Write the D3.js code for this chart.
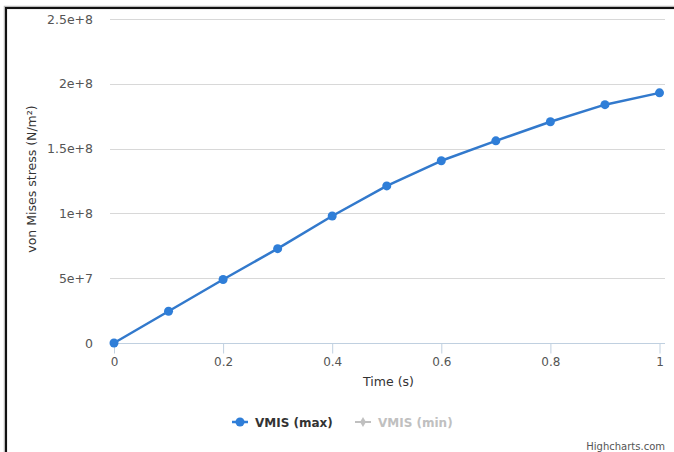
<!DOCTYPE html>
<html>
<head>
<meta charset="utf-8">
<script src="https://cdn.jsdelivr.net/npm/d3@7"></script>
<style>
  body { margin: 0; background: #fff; }
  text { font-family: "DejaVu Sans", Verdana, sans-serif; }
</style>
</head>
<body>
<script>
var width  = 674
var height = 452
var plot = { left: 110, right: 665, top: 19, bottom: 343 }

// data
var times   = [0, 0.1, 0.2, 0.3, 0.4, 0.5, 0.6, 0.7, 0.8, 0.9, 1]
var vmisMax = [0, 2.45e7, 4.9e7, 7.28e7, 9.8e7, 1.212e8, 1.406e8, 1.56e8, 1.707e8, 1.839e8, 1.93e8]
var yTicks  = [0, 5e7, 1e8, 1.5e8, 2e8, 2.5e8]
var yTickLabels = ['0', '5e+7', '1e+8', '1.5e+8', '2e+8', '2.5e+8']
var xTicks  = [0, 0.2, 0.4, 0.6, 0.8, 1]
var seriesNames = ['VMIS (max)', 'VMIS (min)']

var blue = '#2f7ed8'

var svg = d3.select('body')
  .append('svg')
  .attr('width', width)
  .attr('height', height)

// frame around the screenshot
svg.append('rect')
  .attr('x', 5.5).attr('y', 7.5)
  .attr('width', 700).attr('height', 500)
  .attr('fill', 'none')
  .attr('stroke', '#bbb')
  .attr('stroke-width', 3.5)
svg.append('rect')
  .attr('x', 6).attr('y', 8)
  .attr('width', 700).attr('height', 500)
  .attr('fill', 'none')
  .attr('stroke', '#111')
  .attr('stroke-width', 2)

var xScale = d3.scaleLinear()
  .domain([0, 1])
  .range([114, 659.5])

var yScale = d3.scaleLinear()
  .domain([0, 2.5e8])
  .range([plot.bottom, plot.top])

// grid lines
svg.append('g')
  .selectAll('line')
  .data(yTicks.slice(1))
  .enter()
  .append('line')
  .attr('x1', plot.left)
  .attr('x2', plot.right)
  .attr('y1', d => Math.round(yScale(d)) + 0.5)
  .attr('y2', d => Math.round(yScale(d)) + 0.5)
  .attr('stroke', '#d8d8d8')
  .attr('stroke-width', 1)

// y axis labels
var yAxis = d3.axisLeft(yScale)
  .tickValues(yTicks)
  .tickFormat((d, i) => yTickLabels[i])
  .tickSize(0)
  .tickPadding(0)

var gy = svg.append('g')
  .attr('transform', 'translate(' + [93, 0] + ')')
  .call(yAxis)
gy.select('.domain').remove()
gy.selectAll('text')
  .attr('fill', '#555')
  .attr('font-size', '12.5px')
  .attr('font-family', '"DejaVu Sans", Verdana, sans-serif')

// x axis
var xAxis = d3.axisBottom(xScale)
  .tickValues(xTicks)
  .tickFormat(d3.format('~g'))
  .tickSize(10)
  .tickSizeOuter(0)
  .tickPadding(4)

var gx = svg.append('g')
  .attr('transform', 'translate(' + [0, Math.round(plot.bottom) + 0.5] + ')')
  .call(xAxis)
gx.select('.domain')
  .attr('d', 'M' + plot.left + ',0H' + plot.right)
  .attr('stroke', '#c0d0e0')
gx.selectAll('.tick line').attr('stroke', '#c0d0e0')
gx.selectAll('text')
  .attr('fill', '#555')
  .attr('font-size', '12px')
  .attr('font-family', '"DejaVu Sans", Verdana, sans-serif')

// axis titles
svg.append('text')
  .attr('x', (plot.left + plot.right) / 2 + 1)
  .attr('y', 386)
  .attr('text-anchor', 'middle')
  .attr('font-size', '12.5px')
  .attr('fill', '#333')
  .text('Time (s)')

svg.append('text')
  .attr('transform', 'translate(' + [36, 179] + ') rotate(-90)')
  .attr('text-anchor', 'middle')
  .attr('font-size', '12.5px')
  .attr('fill', '#333')
  .text('von Mises stress (N/m²)')

// series
var points = times.map((t, i) => ({ t: t, v: vmisMax[i] }))

var line = d3.line()
  .x(d => xScale(d.t))
  .y(d => yScale(d.v))

svg.append('path')
  .datum(points)
  .attr('d', line)
  .attr('fill', 'none')
  .attr('stroke', '#3279cc')
  .attr('stroke-width', 2.5)
  .attr('stroke-linejoin', 'round')

svg.append('g')
  .selectAll('circle')
  .data(points)
  .enter()
  .append('circle')
  .attr('cx', d => xScale(d.t))
  .attr('cy', d => yScale(d.v))
  .attr('r', 4.5)
  .attr('fill', blue)

// legend
var legend = svg.append('g')
var legendItems = [
  { name: seriesNames[0], x: 232, color: blue, text: '#333', shape: d3.symbolCircle, size: 64, w: 2.5 },
  { name: seriesNames[1], x: 355, color: '#c0c0c0', text: '#c0c0c0', shape: d3.symbolDiamond, size: 30, w: 2 }
]
legendItems.forEach(item => {
  legend.append('line')
    .attr('x1', item.x).attr('x2', item.x + 16)
    .attr('y1', 422).attr('y2', 422)
    .attr('stroke', item.color)
    .attr('stroke-width', item.w)
  legend.append('path')
    .attr('d', d3.symbol().type(item.shape).size(item.size)())
    .attr('transform', 'translate(' + [item.x + 8, 422] + ')')
    .attr('fill', item.color)
  legend.append('text')
    .attr('x', item.x + 23)
    .attr('y', 426.5)
    .attr('font-size', '12px')
    .attr('font-weight', 'bold')
    .attr('fill', item.text)
    .text(item.name)
})

// credits
svg.append('text')
  .attr('x', 665)
  .attr('y', 450)
  .attr('text-anchor', 'end')
  .attr('font-size', '10px')
  .attr('fill', '#555')
  .text('Highcharts.com')
</script>
</body>
</html>
